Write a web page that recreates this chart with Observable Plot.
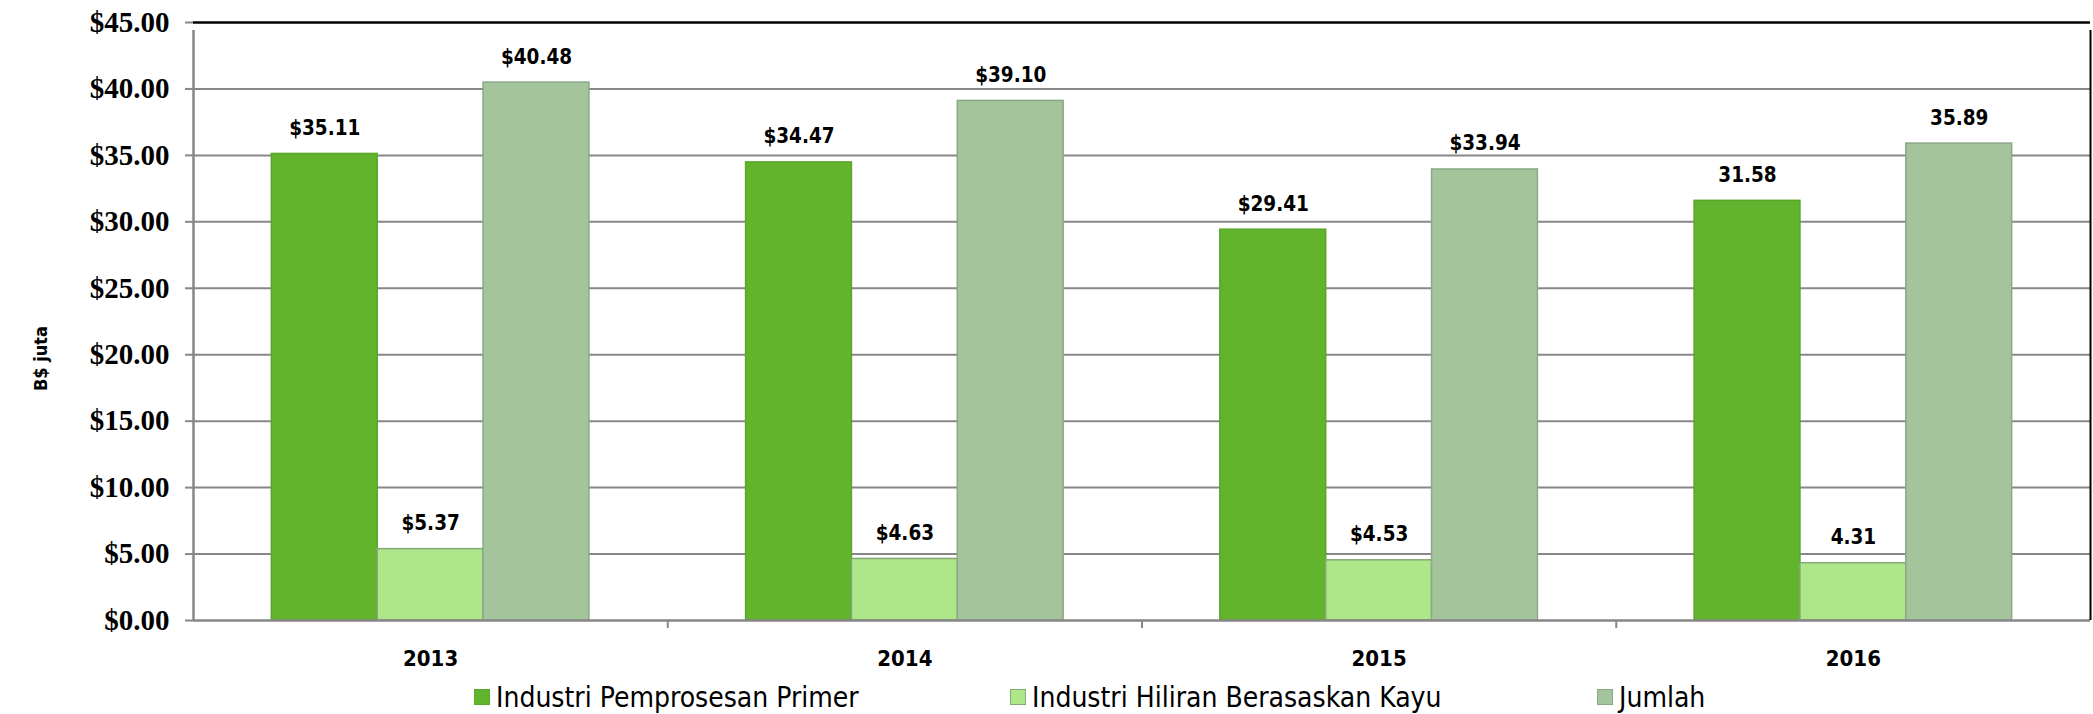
<!DOCTYPE html>
<html><head><meta charset="utf-8">
<script src="https://cdn.jsdelivr.net/npm/d3@7"></script>
<script src="https://cdn.jsdelivr.net/npm/@observablehq/plot@0.6"></script>
<style>
body{margin:0;background:#fff;}
#legend{position:relative;width:2093px;height:34px;font-family:"DejaVu Sans Condensed","DejaVu Sans",sans-serif;font-size:28px;color:#000;}
.item{position:absolute;top:0;height:34px;display:flex;align-items:center;white-space:nowrap;}
.sw{width:16px;height:16px;margin-right:6px;box-sizing:border-box;}
</style></head><body>
<div id="chart"></div>
<div id="legend"></div>
<script>
const years = ["2013", "2014", "2015", "2016"];
const series = ["Industri Pemprosesan Primer", "Industri Hiliran Berasaskan Kayu", "Jumlah"];
const primer = [35.11, 34.47, 29.41, 31.58];
const hiliran = [5.37, 4.63, 4.53, 4.31];
const jumlah = [40.48, 39.10, 33.94, 35.89];
const primerLabels = ["$35.11", "$34.47", "$29.41", "31.58"];
const hiliranLabels = ["$5.37", "$4.63", "$4.53", "4.31"];
const jumlahLabels = ["$40.48", "$39.10", "$33.94", "35.89"];
const yTicks = [0, 5, 10, 15, 20, 25, 30, 35, 40, 45];
const yTitle = "B$ juta";

const colors = ["#62b42c", "#aee68a", "#a4c59b"];
const strokes = ["#5aa52a", "#86a876", "#8ca886"];
const legendPos = [474, 1010, 1597];

const values = [primer, hiliran, jumlah];
const labels = [primerLabels, hiliranLabels, jumlahLabels];
const rows = [];
years.forEach((year, yi) => series.forEach((s, si) => rows.push({year, yi, series: s, si, value: values[si][yi], label: labels[si][yi]})));

const barFrac = 0.2232;
const pad = (1 - 3 * barFrac) / 2;
const bx1 = d => d.yi + pad + d.si * barFrac;
const bx2 = d => bx1(d) + barFrac;

const gray = "#878787";
const sans = "'DejaVu Sans Condensed', 'DejaVu Sans', sans-serif";

const chart = Plot.plot({
  width: 2093, height: 680,
  marginLeft: 193, marginRight: 3, marginTop: 22, marginBottom: 60,
  style: {background: "white", overflow: "visible"},
  x: {domain: [0, years.length], axis: null},
  y: {domain: [0, 45], axis: null},
  marks: [
    Plot.ruleY(yTicks.filter(t => t > 0 && t < 45), {stroke: gray, strokeWidth: 2}),
    Plot.rect(rows, {x1: bx1, x2: bx2, y1: 0, y2: "value", fill: d => colors[d.si], stroke: d => strokes[d.si], strokeWidth: 1.5}),
    Plot.ruleY([0], {stroke: gray, strokeWidth: 2.5}),
    Plot.ruleY([45], {stroke: "#000", strokeWidth: 2.5}),
    Plot.ruleX([0], {y1: 0, y2: 45, stroke: gray, strokeWidth: 2.5, insetBottom: -8}),
    Plot.ruleX([years.length], {y1: 0, y2: 45, stroke: "#000", strokeWidth: 2, insetBottom: -8}),
    Plot.ruleX(d3.range(1, years.length), {y1: 0, y2: 0, insetBottom: -8, stroke: gray, strokeWidth: 2}),
    Plot.axisY({ticks: yTicks, tickFormat: d => "$" + d.toFixed(2), tickSize: 8, tickPadding: 16,
      stroke: gray, strokeWidth: 2, fill: "#000", fontSize: 29, fontFamily: "'Liberation Serif', serif", fontWeight: "bold", label: null}),
    Plot.axisX({ticks: years.map((_, i) => i + 0.5), tickFormat: t => years[Math.floor(t)], tickSize: 0, tickPadding: 30,
      fill: "#000", fontSize: 22, fontFamily: sans, fontWeight: "bold", label: null}),
    Plot.text(rows, {x: d => (bx1(d) + bx2(d)) / 2, y: "value", text: "label", lineAnchor: "bottom", dy: -19,
      fontSize: 20.5, fontFamily: sans, fontWeight: "bold", fill: "#000"}),
    Plot.text([yTitle], {frameAnchor: "left", textAnchor: "middle", rotate: -90, dx: -152, dy: 37, fontSize: 18, fontFamily: sans, fontWeight: "bold", fill: "#000"})
  ]
});
document.getElementById("chart").appendChild(chart);

const legend = document.getElementById("legend");
series.forEach((s, i) => {
  const item = document.createElement("div");
  item.className = "item";
  item.style.left = legendPos[i] + "px";
  const sw = document.createElement("span");
  sw.className = "sw";
  sw.style.background = colors[i];
  sw.style.border = "1px solid " + strokes[i];
  const t = document.createElement("span");
  t.textContent = s;
  item.appendChild(sw); item.appendChild(t);
  legend.appendChild(item);
});
</script>
</body></html>
